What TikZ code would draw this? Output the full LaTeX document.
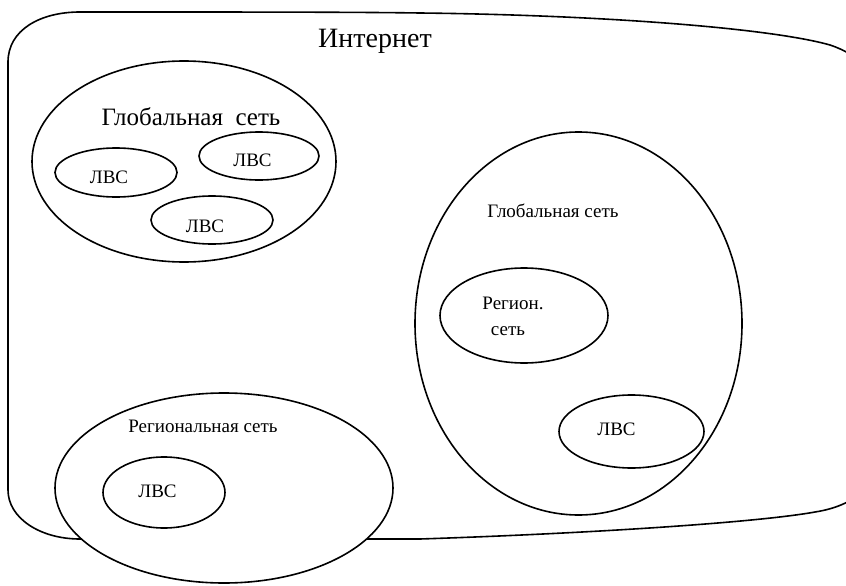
\documentclass[tikz,border=0pt]{standalone}
\usepackage{fontspec}
\setmainfont{Liberation Serif}
\newfontfamily\netfont{Liberation Serif}
\usepackage{tikz}
\usetikzlibrary{shapes.geometric}

\begin{document}
\begin{tikzpicture}[
                x=1pt, y=-1pt,
                net/.style={draw, ellipse, line width=1.6pt, inner sep=0pt, fill=white},
                outline/.style={draw, line width=1.6pt},
                bigtxt/.style={anchor=base, inner sep=0pt, font=\netfont\fontsize{28}{32}\selectfont},
                midtxt/.style={anchor=base, inner sep=0pt, font=\netfont\fontsize{25}{29}\selectfont},
                txt/.style={anchor=base, inner sep=0pt, font=\netfont\fontsize{19}{23}\selectfont}
            ]
            \clip (0,0) rectangle (846,586);
            \fill[white] (0,0) rectangle (846,586);
            \draw[outline] (8,62) .. controls (8,30) and (40,12) .. (80,12)
            .. controls (250,12) and (350,12) .. (420,13)
            .. controls (600,15) and (770,28) .. (830,45)
            .. controls (860,55) and (880,75) .. (880,110)
            -- (880,450)
            .. controls (880,480) and (860,505) .. (815,512)
            .. controls (760,522) and (600,533) .. (420,539)
            -- (80,539)
            .. controls (40,539) and (8,518) .. (8,490) -- cycle;
            \node[bigtxt] (inet) at (375,48) {Интернет};
            \node[net, minimum width=304pt, minimum height=201pt] (glob1) at (184,161.5) {};
            \node[midtxt] (glob1txt) at (191,125) {Глобальная\ \ сеть};
            \node[net, minimum width=122pt, minimum height=49pt] (lan1) at (116,172.5) {};
            \node[txt] (lan1txt) at (109,183) {ЛВС};
            \node[net, minimum width=120pt, minimum height=48pt] (lan2) at (259,156) {};
            \node[txt] (lan2txt) at (252.5,166.5) {ЛВС};
            \node[net, minimum width=122pt, minimum height=48pt] (lan3) at (212,220) {};
            \node[txt] (lan3txt) at (205,232) {ЛВС};
            \node[net, minimum width=327pt, minimum height=383pt] (glob2) at (578.5,323.5) {};
            \node[txt] (glob2txt) at (553,217) {Глобальная сеть};
            \node[net, minimum width=168pt, minimum height=95pt] (reg2) at (524,315.5) {};
            \node[txt] (reg2txt) at (513,309) {Регион.};
            \node[txt] (reg2txtb) at (508,335) {сеть};
            \node[net, minimum width=145pt, minimum height=73pt] (lan4) at (631.5,431.5) {};
            \node[txt] (lan4txt) at (616.5,435) {ЛВС};
            \node[net, minimum width=338pt, minimum height=190pt] (reg1) at (224,488) {};
            \node[txt] (reg1txt) at (203,432) {Региональная сеть};
            \node[net, minimum width=122pt, minimum height=71pt] (lan5) at (164,492.5) {};
            \node[txt] (lan5txt) at (157.5,497) {ЛВС};
        \end{tikzpicture}
\end{document}
